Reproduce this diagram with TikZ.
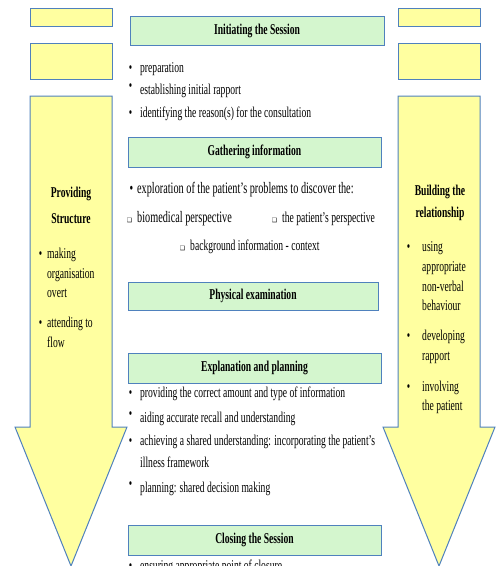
\documentclass[tikz,border=0pt]{standalone}
\usepackage{fontspec}
\setmainfont{Liberation Serif}[FakeStretch=0.64]
\newfontfamily\boxfont{DejaVu Sans}
\usetikzlibrary{positioning}
\definecolor{frameblue}{RGB}{79,129,189}
\definecolor{paleyellow}{RGB}{255,255,160}
\definecolor{palegreen}{RGB}{212,246,206}
\newcommand{\blt}[1][8pt]{\llap{\textbullet\hspace{#1}}}
\newcommand{\bltup}[1][8pt]{\llap{\raisebox{4pt}{\textbullet}\hspace{#1}}}
\newcommand{\sqb}{\llap{{\boxfont\fontsize{6}{6}\selectfont ❑}\hspace{5pt}}}

\begin{document}
\begin{tikzpicture}[x=1pt,y=-1pt,font=\fontsize{15}{20}\selectfont]
  \tikzstyle{stage}=[draw=frameblue,line width=1pt,fill=palegreen,inner sep=0pt,font=\fontsize{15}{20}\selectfont\bfseries]
  \tikzstyle{tag}=[draw=frameblue,line width=1pt,fill=paleyellow,minimum width=82pt,inner sep=0pt]
  \tikzstyle{flow}=[draw=frameblue,line width=1pt,fill=paleyellow]
  \tikzstyle{line}=[anchor=base west,inner sep=0pt]
  \tikzstyle{head}=[anchor=base,inner sep=0pt,font=\fontsize{15}{20}\selectfont\bfseries]
  \clip (0,0) rectangle (499,566);
  % yellow tags and side arrows
  \node[tag,minimum height=18pt] (tl1) at (71,17) {};
  \node[tag,minimum height=36pt] (tl2) at (71,61) {};
  \node[tag,minimum height=18pt] (tr1) at (439,17) {};
  \node[tag,minimum height=36pt] (tr2) at (439,61) {};
  \draw[flow] (30,96) -- (112,96) -- (112,427) -- (127,427) -- (71,566) -- (15,427) -- (30,427) -- cycle;
  \draw[flow] (398,96) -- (480,96) -- (480,427) -- (495,427) -- (439,566) -- (383,427) -- (398,427) -- cycle;
  \node[head] (provide) at (71,197) {Providing};
  \node[head] (structure) at (71,223) {Structure};
  \node[line] (s1) at (47,258) {\blt[5pt]making};
  \node[line] (s1b) at (47,278) {organisation};
  \node[line] (s1c) at (47,297) {overt};
  \node[line] (s2) at (47,327) {\blt[5pt]attending to};
  \node[line] (s2b) at (47,347) {flow};
  \node[head] (build) at (440,195) {Building the};
  \node[head] (relation) at (440,217) {relationship};
  \node[line] (r1) at (422,251) {\blt[12pt]using};
  \node[line] (r1b) at (422,271) {appropriate};
  \node[line] (r1c) at (422,291) {non-verbal};
  \node[line] (r1d) at (422,310) {behaviour};
  \node[line] (r2) at (422,340) {\blt[12pt]developing};
  \node[line] (r2b) at (422,360) {rapport};
  \node[line] (r3) at (422,391) {\blt[12pt]involving};
  \node[line] (r3b) at (422,410) {the patient};
  % stages
  \node[stage,minimum width=254pt,minimum height=29pt] (init) at (257,30.5) {Initiating the Session};
  \node[line] (i1) at (140,72) {\blt preparation};
  \node[line] (i2) at (140,94) {\bltup establishing initial rapport};
  \node[line] (i3) at (140,117) {\blt identifying the reason(s) for the consultation};
  \node[stage,minimum width=253pt,minimum height=30pt] (gather) at (254.5,152) {Gathering information};
  \node[line,font=\fontsize{16}{20}\selectfont] (g1) at (137,193) {\blt[4pt]exploration of the patient’s problems to discover the:};
  \node[line,font=\fontsize{16}{20}\selectfont] (gbio) at (137,222) {\sqb biomedical perspective};
  \node[line] (gpat) at (282,222) {\sqb the patient’s perspective};
  \node[line] (gback) at (190,250) {\sqb background information - context};
  \node[stage,minimum width=250pt,minimum height=28pt] (phys) at (253,296) {Physical examination};
  \node[stage,minimum width=253pt,minimum height=30pt] (expl) at (254.5,368) {Explanation and planning};
  \node[line] (e1) at (140,397) {\blt providing the correct amount and type of information};
  \node[line] (e2) at (140,422) {\bltup aiding accurate recall and understanding};
  \node[line] (e3) at (140,445) {\blt achieving a shared understanding: incorporating the patient’s};
  \node[line] (e3b) at (140,467) {illness framework};
  \node[line] (e4) at (140,492) {\bltup planning: shared decision making};
  \node[stage,minimum width=253pt,minimum height=30pt] (close) at (254.5,540) {Closing the Session};
  \node[line] (c1) at (140,570) {\blt ensuring appropriate point of closure};
\end{tikzpicture}
\end{document}
